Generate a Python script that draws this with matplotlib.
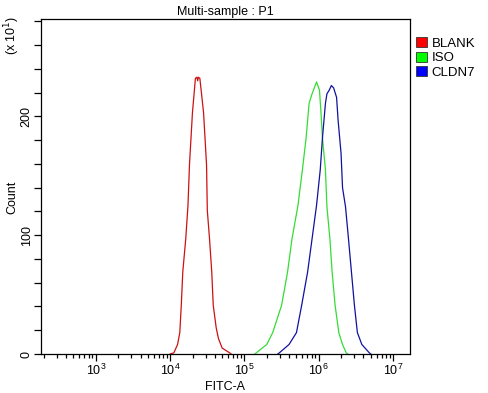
import numpy as np
from matplotlib import pyplot as plt
from matplotlib.patches import Patch
from matplotlib.ticker import LogLocator, MultipleLocator, NullFormatter

plt.rcParams['font.family'] = ['Liberation Sans', 'DejaVu Sans']

# histogram outlines: log10(FITC-A) and count (x10^1)
blank_log = [4.00, 4.05, 4.10, 4.13, 4.15, 4.17, 4.21, 4.24, 4.26, 4.30, 4.34, 4.36,
             4.37, 4.38, 4.40, 4.45, 4.49, 4.50, 4.53, 4.56, 4.58, 4.62, 4.65, 4.70, 4.80, 4.82]
blank_cnt = [0, 1, 8, 18, 41, 69, 97, 125, 159, 203, 232, 233,
             230, 233, 232, 203, 159, 121, 97, 69, 41, 22, 13, 5, 1, 0]

iso_log = [5.14, 5.16, 5.30, 5.38, 5.50, 5.58, 5.64, 5.72, 5.78, 5.83, 5.87, 5.91,
           5.97, 6.01, 6.03, 6.05, 6.09, 6.11, 6.15, 6.18, 6.22, 6.27, 6.32, 6.37, 6.39]
iso_cnt = [0, 1, 8, 18, 41, 69, 97, 125, 155, 182, 211, 219,
           229, 222, 203, 182, 155, 124, 97, 69, 41, 18, 8, 1, 0]

cldn7_log = [5.45, 5.47, 5.60, 5.70, 5.77, 5.85, 5.91, 5.97, 6.02, 6.05, 6.09, 6.11,
             6.14, 6.17, 6.20, 6.24, 6.26, 6.30, 6.32, 6.36, 6.40, 6.44, 6.48, 6.52,
             6.58, 6.68, 6.70]
cldn7_cnt = [0, 1, 8, 18, 41, 69, 97, 125, 155, 182, 211, 219,
             222, 226, 224, 216, 197, 169, 140, 124, 97, 69, 41, 18,
             8, 1, 0]

names = ["BLANK", "ISO", "CLDN7"]
line_colors = ["#cc1111", "#33dd33", "#1111a0"]
box_colors = ["#ff0000", "#00ff00", "#0000ff"]

fig = plt.figure(figsize=(4.89, 3.93), dpi=100)
ax = fig.add_axes([41 / 489, 39 / 393, 369 / 489, 335 / 393])

for lx, cnt, c in zip([blank_log, iso_log, cldn7_log], [blank_cnt, iso_cnt, cldn7_cnt], line_colors):
    ax.plot(10 ** np.array(lx), cnt, color=c, lw=0.9)

ax.set_xscale("log")
ax.set_xlim(10 ** 2.262, 10 ** 7.228)
ax.set_ylim(0, 282)

ax.xaxis.set_major_locator(LogLocator(base=10, numticks=10))
ax.xaxis.set_minor_locator(LogLocator(base=10, subs=np.arange(2, 10), numticks=20))
ax.xaxis.set_minor_formatter(NullFormatter())
ax.yaxis.set_major_locator(MultipleLocator(100))
ax.yaxis.set_minor_locator(MultipleLocator(20))

ax.tick_params(which="major", width=0.9, labelsize=9, direction="out")
ax.tick_params(axis="x", which="major", length=5, pad=1.5)
ax.tick_params(axis="x", which="minor", length=3, width=0.9, direction="out")
ax.tick_params(axis="y", which="both", length=5, width=0.9, pad=1)
for lab in ax.get_yticklabels():
    lab.set_rotation(90)
    lab.set_va("center")
for s in ax.spines.values():
    s.set_linewidth(0.9)

ax.set_title("Multi-sample : P1", fontsize=9, pad=3)
ax.set_xlabel("FITC-A", fontsize=9, va="center")
ax.xaxis.set_label_coords(0.5, (354 - 387) / 335)
ax.set_ylabel("Count", fontsize=9, va="center")
ax.yaxis.set_label_coords((12 - 41) / 369, (354 - 197) / 335)
fig.text(12 / 489, 1 - 35 / 393, "(x 10$^1$)", rotation=90, fontsize=9, ha="center", va="center")

handles = [Patch(facecolor=bc, edgecolor="#333333", lw=0.6) for bc in box_colors]
fig.legend(handles, names, loc="upper left", bbox_to_anchor=(416 / 489, 1 - 37 / 393),
           frameon=False, fontsize=9.5, handlelength=0.8, handleheight=0.8,
           handletextpad=0.4, labelspacing=0.15, borderaxespad=0, borderpad=0)

fig.savefig("out.png", dpi=100)
